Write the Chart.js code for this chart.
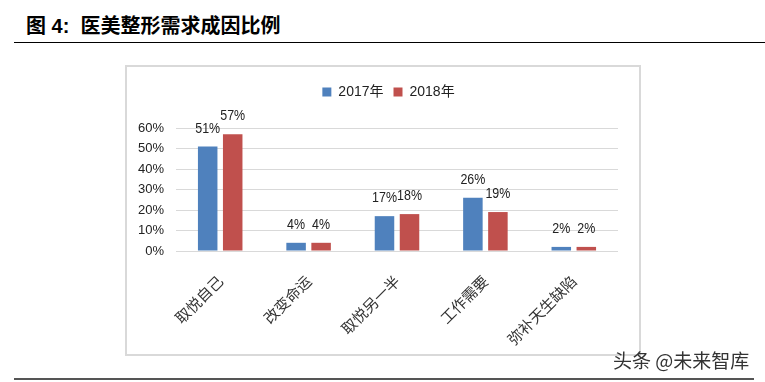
<!DOCTYPE html>
<html><head><meta charset="utf-8">
<script src="https://cdn.jsdelivr.net/npm/chart.js@4.4.0/dist/chart.umd.min.js"></script>
<style>
body{margin:0;width:765px;height:382px;background:#fff;position:relative;overflow:hidden;font-family:"Liberation Sans",Arial,sans-serif;}
#title{position:absolute;left:26px;top:16px;font:bold 20px/20px "Liberation Sans","Noto Sans CJK SC";color:#000;white-space:pre}
#topline{position:absolute;left:14px;top:42px;width:751px;height:1px;background:#000}
#box{position:absolute;left:125px;top:65px;width:516px;height:291px;border:2px solid #d9d9d9;box-sizing:border-box}
#bottomline{position:absolute;left:14px;top:378px;width:740px;height:2px;background:#555}
#wm{position:absolute;left:613px;top:349px;font:19px/22px "Noto Sans CJK SC";color:#333}
</style>
</head><body>
<div id="title">图 4:  医美整形需求成因比例</div>
<div id="topline"></div>
<div id="box"><canvas id="c" width="512" height="287"></canvas></div>
<div id="bottomline"></div>
<div id="wm">头条 @未来智库</div>
<script>
const categories = ['取悦自己','改变命运','取悦另一半','工作需要','弥补天生缺陷'];
const seriesNames = ['2017年','2018年'];
const values2017 = [51, 4, 17, 26, 2];
const values2018 = [57, 4, 18, 19, 2];
const yTickValues = [0, 10, 20, 30, 40, 50, 60];

const labelPlugin = {
  id: 'barLabels',
  afterDatasetsDraw(chart) {
    const ctx = chart.ctx;
    chart.data.datasets.forEach((ds, i) => {
      const meta = chart.getDatasetMeta(i);
      meta.data.forEach((el, j) => {
        ctx.save();
        ctx.font = '15px "Liberation Sans",Arial';
        ctx.fillStyle = '#222';
        ctx.textAlign = 'center';
        ctx.textBaseline = 'middle';
        ctx.translate(el.x, el.y - 18);
        ctx.scale(0.83, 1);
        ctx.fillText(ds.data[j] + '%', 0, 0);
        ctx.restore();
      });
    });
  }
};

const legendFitPlugin = {
  id: 'legendFit',
  beforeLayout(chart) {
    const lg = chart.legend;
    if (lg && !lg._patched) {
      const orig = lg.fit.bind(lg);
      lg.fit = function () { orig(); this.height += 19; };
      lg._patched = true;
    }
  },
  afterLayout(chart) {
    const lg = chart.legend;
    if (lg) { lg.left += 16; lg.right += 16; }
  }
};

new Chart(document.getElementById('c'), {
  type: 'bar',
  data: {
    labels: categories,
    datasets: [
      {label: seriesNames[0], data: values2017, backgroundColor: '#4f81bd', categoryPercentage: 0.566, barPercentage: 0.78},
      {label: seriesNames[1], data: values2018, backgroundColor: '#c0504d', categoryPercentage: 0.566, barPercentage: 0.78}
    ]
  },
  options: {
    responsive: false,
    animation: false,
    layout: {padding: {top: 8, right: 21, left: 0, bottom: 0}},
    plugins: {
      legend: {
        display: true,
        position: 'top',
        labels: {boxWidth: 9, boxHeight: 9, padding: 10, color: '#222', font: {size: 14, family: '"Liberation Sans","Noto Sans CJK SC"'}}
      },
      tooltip: {enabled: false}
    },
    scales: {
      x: {
        grid: {display: false},
        border: {display: false},
        ticks: {maxRotation: 45, minRotation: 45, color: '#333', padding: 13, font: {size: 15, family: '"Noto Sans CJK SC"'}},
        afterFit(scale) { scale.height = 103; }
      },
      y: {
        min: 0, max: 60,
        afterBuildTicks(scale) { scale.ticks = yTickValues.map(v => ({value: v})); },
        grid: {color: '#d9d9d9', lineWidth: 1, drawTicks: false},
        border: {display: false},
        ticks: {color: '#222', padding: 12, font: {size: 13, family: '"Liberation Sans",Arial'}, callback: v => v + '%'},
        afterFit(scale) { scale.width = 49; }
      }
    }
  },
  plugins: [legendFitPlugin, labelPlugin]
});
</script>
</body></html>
